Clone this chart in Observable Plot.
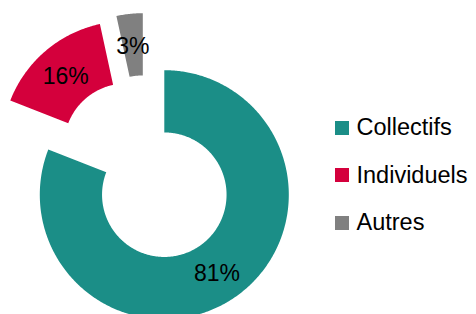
<!DOCTYPE html>
<html><head><meta charset="utf-8">
<script src="https://cdn.jsdelivr.net/npm/d3@7"></script>
<script src="https://cdn.jsdelivr.net/npm/@observablehq/plot@0.6"></script>
<style>
body{margin:0;background:#fff;font-family:"Liberation Sans",Arial,sans-serif;}
#wrap{position:relative;width:476px;height:314px;overflow:hidden;}
#legend{position:absolute;left:335px;top:104px;}
.row{display:flex;align-items:center;height:47.5px;font-size:23.5px;color:#000;}
.sw{width:14px;height:14px;margin-right:7.5px;flex:none;}
</style></head><body><div id="wrap"></div>
<script>
// data
const categories = ["Collectifs", "Individuels", "Autres"];
const values = [80.9, 15.7, 3.4];
const labels = ["81%", "16%", "3%"];
const colors = ["#1B8E87", "#D4003C", "#808080"];

// style / layout constants
const W = 476, H = 314;
const CX = 163.8, CY = 194.2, R = 124.5, INNER = 0.5;
const explodePx = [[0, 0], [-38, 49], [-21.5, 57]]; // px offsets (dx right, dy up)

const total = d3.sum(values);
let acc = 0;
const slices = values.map((v, i) => {
  const a0 = acc / total * 2 * Math.PI;
  acc += v;
  const a1 = acc / total * 2 * Math.PI;
  return {cat: categories[i], label: labels[i], a0, a1, dx: explodePx[i][0] / R, dy: explodePx[i][1] / R};
});

const poly = [];
for (const s of slices) {
  const n = Math.max(8, Math.ceil((s.a1 - s.a0) / 0.01));
  for (let k = 0; k <= n; k++) {
    const a = s.a0 + (s.a1 - s.a0) * k / n;
    poly.push({cat: s.cat, x: Math.sin(a) + s.dx, y: Math.cos(a) + s.dy});
  }
  for (let k = n; k >= 0; k--) {
    const a = s.a0 + (s.a1 - s.a0) * k / n;
    poly.push({cat: s.cat, x: INNER * Math.sin(a) + s.dx, y: INNER * Math.cos(a) + s.dy});
  }
}
const rm = (1 + INNER) / 2;
const labelRows = slices.map(s => {
  const a = (s.a0 + s.a1) / 2;
  return {text: s.label, x: rm * Math.sin(a) + s.dx, y: rm * Math.cos(a) + s.dy};
});

const chart = Plot.plot({
  width: W, height: H,
  margin: 0,
  x: {domain: [-CX / R, (W - CX) / R], axis: null},
  y: {domain: [-(H - CY) / R, CY / R], axis: null},
  color: {domain: categories, range: colors},
  style: {background: "white"},
  marks: [
    Plot.line(poly, {x: "x", y: "y", z: "cat", fill: "cat", stroke: "none", curve: "linear"}),
    Plot.text(labelRows, {x: "x", y: "y", text: "text", fontSize: 23, fill: "#000", dy: 1.5,
      fontFamily: "Liberation Sans, Arial, sans-serif"})
  ]
});
const wrap = document.getElementById("wrap");
wrap.appendChild(chart);

const legend = document.createElement("div");
legend.id = "legend";
categories.forEach((c, i) => {
  const row = document.createElement("div");
  row.className = "row";
  const sw = document.createElement("span");
  sw.className = "sw";
  sw.style.background = colors[i];
  const t = document.createElement("span");
  t.textContent = c;
  row.appendChild(sw); row.appendChild(t);
  legend.appendChild(row);
});
wrap.appendChild(legend);
</script>
</body></html>
